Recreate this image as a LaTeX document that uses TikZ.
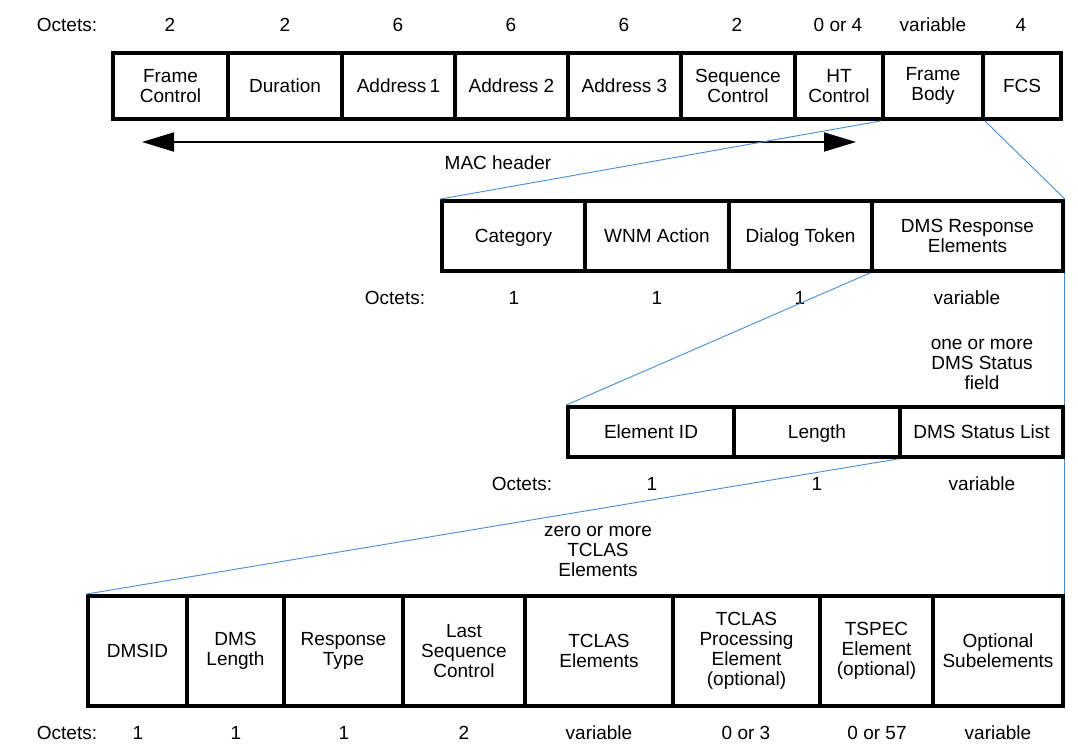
\documentclass[tikz,border=0pt]{standalone}
\usepackage{fontspec}
\setmainfont{Liberation Sans}
\usetikzlibrary{arrows.meta}
\definecolor{linkblue}{RGB}{70,140,215}
\tikzset{
  cell/.style={draw=black, line width=3.8pt, inner sep=0pt, align=center, font=\fontsize{19}{20}\selectfont},
  lab/.style={inner sep=0pt, anchor=base, font=\fontsize{19}{20}\selectfont},
  mlab/.style={inner sep=0pt, align=center, font=\fontsize{19}{20}\selectfont},
  link/.style={draw=linkblue, line width=0.9pt},
  bigarrow/.style={line width=1.8pt, {Triangle[length=32pt,width=19pt]}-{Triangle[length=32pt,width=19pt]}}
}
\newcommand\fcell[6]{\node[cell,minimum width={#3-#2},minimum height={#5-#4}] (#1) at ({(#2+#3)/2},{(#4+#5)/2}) {#6};}
\newcommand\capc[1]{\vphantom{H}\smash{#1}}
\begin{document}
\begin{tikzpicture}[x=1pt,y=-1pt]
\useasboundingbox[fill=white] (0,0) rectangle (1078,753);
% Row 1
\node[lab] (o1) at (67,31) {Octets:};
\node[lab] (o1a) at (170,31) {2};
\node[lab] (o1b) at (285,31) {2};
\node[lab] (o1c) at (398,31) {6};
\node[lab] (o1d) at (511,31) {6};
\node[lab] (o1e) at (624,31) {6};
\node[lab] (o1f) at (737,31) {2};
\node[lab] (o1g) at (838,31) {0 or 4};
\node[lab] (o1h) at (933,31) {variable};
\node[lab] (o1i) at (1021,31) {4};
\fcell{hfc}{113}{228}{53}{119}{Frame\\Control}
\fcell{hdu}{228}{342}{53}{119}{\capc{Duration}}
\fcell{ha1}{342}{455}{53}{119}{\capc{Address\,1}}
\fcell{ha2}{455}{568}{53}{119}{\capc{Address 2}}
\fcell{ha3}{568}{681}{53}{119}{\capc{Address 3}}
\fcell{hsc}{681}{795}{53}{119}{Sequence\\Control}
\fcell{hht}{795}{883}{53}{119}{HT\\Control}
\fcell{hfb}{883}{983}{53}{119}{Frame\\Body}
\fcell{hfcs}{983}{1061}{53}{119}{\capc{FCS}}
\coordinate (al) at (142,142);
\coordinate (ar) at (856,142);
\draw[bigarrow] (al) -- (ar);
\node[lab] (mac) at (498,169) {MAC header};
% Row 2
\fcell{rcat}{442}{585}{201}{271}{\capc{Category}}
\fcell{rwnm}{585}{729}{201}{271}{\capc{WNM Action}}
\fcell{rtok}{729}{872}{201}{271}{\capc{Dialog Token}}
\fcell{rdms}{872}{1063}{201}{271}{DMS Response\\Elements}
\node[lab] (o2) at (395,304) {Octets:};
\node[lab] (o2a) at (514,304) {1};
\node[lab] (o2b) at (657,304) {1};
\node[lab] (o2c) at (800,304) {1};
\node[lab] (o2d) at (967,304) {variable};
\node[mlab] (one) at (982,364) {one or more\\DMS Status\\field};
% Row 3
\fcell{eid}{568}{734}{407}{457}{\capc{Element ID}}
\fcell{elen}{734}{900}{407}{457}{\capc{Length}}
\fcell{esl}{900}{1063}{407}{457}{\capc{DMS Status List}}
\node[lab] (o3) at (522,490) {Octets:};
\node[lab] (o3a) at (652,490) {1};
\node[lab] (o3b) at (817,490) {1};
\node[lab] (o3c) at (982,490) {variable};
\node[mlab] (zero) at (598,551) {zero or more\\TCLAS\\Elements};
% Row 4
\fcell{dmsid}{88}{187}{596}{706}{\capc{DMSID}}
\fcell{dlen}{187}{284}{596}{706}{DMS\\Length}
\fcell{rtype}{284}{403}{596}{706}{Response\\Type}
\fcell{lsc}{403}{525}{596}{706}{Last\\Sequence\\Control}
\fcell{tcl}{525}{673}{596}{706}{TCLAS\\Elements}
\fcell{tcp}{673}{820}{596}{706}{TCLAS\\Processing\\Element\\(optional)}
\fcell{tsp}{820}{933}{596}{706}{TSPEC\\Element\\(optional)}
\fcell{opt}{933}{1063}{596}{706}{Optional\\Subelements}
\node[lab] (o4) at (67,739) {Octets:};
\node[lab] (o4a) at (138,739) {1};
\node[lab] (o4b) at (236,739) {1};
\node[lab] (o4c) at (344,739) {1};
\node[lab] (o4d) at (464,739) {2};
\node[lab] (o4e) at (599,739) {variable};
\node[lab] (o4f) at (746,739) {0 or 3};
\node[lab] (o4g) at (877,739) {0 or 57};
\node[lab] (o4h) at (998,739) {variable};
% links
\draw[link] (hfb.south west) -- (rcat.north west);
\draw[link] (hfb.south east) -- (rdms.north east);
\draw[link] (rdms.south west) -- (eid.north west);
\draw[link] (rdms.south east) -- (esl.north east);
\draw[link] (esl.south west) -- (dmsid.north west);
\draw[link] (esl.south east) -- (opt.north east);
\end{tikzpicture}
\end{document}
